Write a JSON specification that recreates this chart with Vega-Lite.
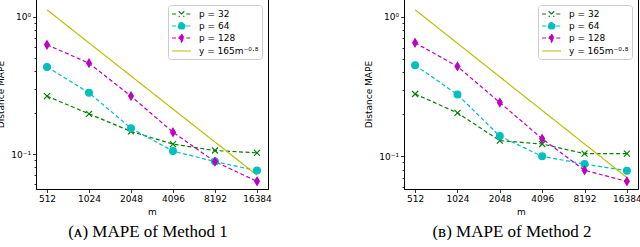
{
  "$schema": "https://vega.github.io/schema/vega-lite/v6.json",
  "padding": {"left": -4, "top": -2, "right": 0, "bottom": 0},
  "background": "white",
  "spacing": 136,
  "bounds": "flush",
  "resolve": {"scale": {"color": "independent", "stroke": "independent", "shape": "independent", "strokeDash": "independent"}, "legend": {"color": "independent"}},
  "config": {
    "view": {"stroke": "black", "strokeWidth": 1},
    "axis": {"grid": false, "domainColor": "black", "tickColor": "black", "labelColor": "black", "labelFont": "DejaVu Sans", "labelFontSize": 9, "titleFont": "DejaVu Sans", "titleFontSize": 9, "titleFontWeight": "normal", "titleColor": "black", "tickSize": 3.5, "labelPadding": 2, "tickWidth": 0.8},
    "title": {"font": "Liberation Serif", "fontSize": 17, "fontWeight": "normal", "color": "black"},
    "legend": {"title": null, "orient": "top-right", "offset": 6, "padding": 3, "strokeColor": "#cccccc", "fillColor": "white", "cornerRadius": 3, "labelFont": "DejaVu Sans", "labelFontSize": 9, "labelColor": "black", "symbolSize": 100, "symbolStrokeWidth": 1.2, "symbolOffset": 4.5, "labelOffset": 11.5, "rowPadding": -2.5, "symbolDash": []}
  },
  "data": {"values": [
    {"method": 1, "series": "p = 32", "m": 512, "mape": 0.264},
    {"method": 1, "series": "p = 32", "m": 1024, "mape": 0.196},
    {"method": 1, "series": "p = 32", "m": 2048, "mape": 0.146},
    {"method": 1, "series": "p = 32", "m": 4096, "mape": 0.118},
    {"method": 1, "series": "p = 32", "m": 8192, "mape": 0.106},
    {"method": 1, "series": "p = 32", "m": 16384, "mape": 0.102},
    {"method": 1, "series": "p = 64", "m": 512, "mape": 0.431},
    {"method": 1, "series": "p = 64", "m": 1024, "mape": 0.279},
    {"method": 1, "series": "p = 64", "m": 2048, "mape": 0.154},
    {"method": 1, "series": "p = 64", "m": 4096, "mape": 0.105},
    {"method": 1, "series": "p = 64", "m": 8192, "mape": 0.088},
    {"method": 1, "series": "p = 64", "m": 16384, "mape": 0.0757},
    {"method": 1, "series": "p = 128", "m": 512, "mape": 0.625},
    {"method": 1, "series": "p = 128", "m": 1024, "mape": 0.459},
    {"method": 1, "series": "p = 128", "m": 2048, "mape": 0.264},
    {"method": 1, "series": "p = 128", "m": 4096, "mape": 0.144},
    {"method": 1, "series": "p = 128", "m": 8192, "mape": 0.088},
    {"method": 1, "series": "p = 128", "m": 16384, "mape": 0.0632},
    {"method": 1, "series": "y = 165m⁻⁰·⁸", "m": 512, "mape": 1.122},
    {"method": 1, "series": "y = 165m⁻⁰·⁸", "m": 1024, "mape": 0.6444},
    {"method": 1, "series": "y = 165m⁻⁰·⁸", "m": 2048, "mape": 0.3701},
    {"method": 1, "series": "y = 165m⁻⁰·⁸", "m": 4096, "mape": 0.2125},
    {"method": 1, "series": "y = 165m⁻⁰·⁸", "m": 8192, "mape": 0.1221},
    {"method": 1, "series": "y = 165m⁻⁰·⁸", "m": 16384, "mape": 0.0701},
    {"method": 2, "series": "p = 32", "m": 512, "mape": 0.279},
    {"method": 2, "series": "p = 32", "m": 1024, "mape": 0.204},
    {"method": 2, "series": "p = 32", "m": 2048, "mape": 0.129},
    {"method": 2, "series": "p = 32", "m": 4096, "mape": 0.122},
    {"method": 2, "series": "p = 32", "m": 8192, "mape": 0.104},
    {"method": 2, "series": "p = 32", "m": 16384, "mape": 0.104},
    {"method": 2, "series": "p = 64", "m": 512, "mape": 0.449},
    {"method": 2, "series": "p = 64", "m": 1024, "mape": 0.276},
    {"method": 2, "series": "p = 64", "m": 2048, "mape": 0.139},
    {"method": 2, "series": "p = 64", "m": 4096, "mape": 0.0995},
    {"method": 2, "series": "p = 64", "m": 8192, "mape": 0.0875},
    {"method": 2, "series": "p = 64", "m": 16384, "mape": 0.0785},
    {"method": 2, "series": "p = 128", "m": 512, "mape": 0.65},
    {"method": 2, "series": "p = 128", "m": 1024, "mape": 0.44},
    {"method": 2, "series": "p = 128", "m": 2048, "mape": 0.242},
    {"method": 2, "series": "p = 128", "m": 4096, "mape": 0.133},
    {"method": 2, "series": "p = 128", "m": 8192, "mape": 0.079},
    {"method": 2, "series": "p = 128", "m": 16384, "mape": 0.0658},
    {"method": 2, "series": "y = 165m⁻⁰·⁸", "m": 512, "mape": 1.122},
    {"method": 2, "series": "y = 165m⁻⁰·⁸", "m": 1024, "mape": 0.6444},
    {"method": 2, "series": "y = 165m⁻⁰·⁸", "m": 2048, "mape": 0.3701},
    {"method": 2, "series": "y = 165m⁻⁰·⁸", "m": 4096, "mape": 0.2125},
    {"method": 2, "series": "y = 165m⁻⁰·⁸", "m": 8192, "mape": 0.1221},
    {"method": 2, "series": "y = 165m⁻⁰·⁸", "m": 16384, "mape": 0.0701}
  ]},
  "hconcat": [
    {
      "width": 232, "height": 190,
      "title": {"text": "(ᴀ) MAPE of Method 1", "orient": "bottom", "anchor": "middle", "frame": "group", "dx": -4, "offset": 7},
      "transform": [{"filter": "datum.method == 1"}],
      "layer": [
        {
          "mark": {"type": "line", "strokeWidth": 1.2, "clip": true},
          "encoding": {
            "x": {"field": "m", "type": "quantitative", "scale": {"type": "log", "base": 2, "domain": [427, 19646], "nice": false}, "axis": {"values": [512, 1024, 2048, 4096, 8192, 16384], "labelExpr": "format(datum.value, 'd')", "title": "m", "titlePadding": 4}},
            "y": {"field": "mape", "type": "quantitative", "scale": {"type": "log", "domain": [0.0556, 1.346], "nice": false}, "axis": {"values": [0.06, 0.07, 0.08, 0.09, 0.1, 0.2, 0.3, 0.4, 0.5, 0.6, 0.7, 0.8, 0.9, 1], "labelExpr": "datum.value == 1 ? '10⁰' : datum.value == 0.1 ? '10⁻¹' : ''", "labelOverlap": false, "tickSize": {"condition": {"test": "datum.value == 1 || datum.value == 0.1", "value": 3.5}, "value": 2}, "title": "Distance MAPE", "titlePadding": 5}},
            "color": {"field": "series", "type": "nominal", "scale": {"domain": ["p = 32", "p = 64", "p = 128", "y = 165m⁻⁰·⁸"], "range": ["#008000", "#00bfbf", "#bf00bf", "#bfbf00"]}, "legend": {"encode": {"symbols": {"update": {"shape": {"signal": "datum.value == 'p = 32' ? 'M-1.9,0H-0.95M0.95,0H1.9M-0.55,-0.55L0.55,0.55M0.55,-0.55L-0.55,0.55' : datum.value == 'p = 64' ? 'M-1.9,0H-0.95M0.95,0H1.9M0.7,0A0.7,0.7,0,1,1,-0.7,0A0.7,0.7,0,1,1,0.7,0Z' : datum.value == 'p = 128' ? 'M-1.9,0H-0.95M0.95,0H1.9M0,-0.8L0.5,0L0,0.8L-0.5,0Z' : 'M-1.9,0H1.9'"}, "fill": {"signal": "datum.value == 'p = 32' ? '#008000' : datum.value == 'p = 64' ? '#00bfbf' : datum.value == 'p = 128' ? '#bf00bf' : '#bfbf00'"}, "stroke": {"signal": "datum.value == 'p = 32' ? '#008000' : datum.value == 'p = 64' ? '#00bfbf' : datum.value == 'p = 128' ? '#bf00bf' : '#bfbf00'"}}}}}},
            "strokeDash": {"field": "series", "type": "nominal", "scale": {"domain": ["p = 32", "p = 64", "p = 128", "y = 165m⁻⁰·⁸"], "range": [[4, 2.5], [4, 2.5], [4, 2.5], [1, 0]]}, "legend": null}
          }
        },
        {
          "transform": [{"filter": "indexof(datum.series, 'p') == 0"}],
          "mark": {"type": "point", "filled": true, "opacity": 1, "strokeWidth": 1.2},
          "encoding": {
            "x": {"field": "m", "type": "quantitative"},
            "y": {"field": "mape", "type": "quantitative"},
            "color": {"field": "series", "type": "nominal", "legend": null},
            "stroke": {"field": "series", "type": "nominal", "scale": {"domain": ["p = 32", "p = 64", "p = 128"], "range": ["#008000", "#00bfbf", "#bf00bf"]}, "legend": null},
            "shape": {"field": "series", "type": "nominal", "scale": {"domain": ["p = 32", "p = 64", "p = 128"], "range": ["M-0.75,-0.75L0.75,0.75M0.75,-0.75L-0.75,0.75", "M0.85,0A0.85,0.85,0,1,1,-0.85,0A0.85,0.85,0,1,1,0.85,0Z", "M0,-1L0.6,0L0,1L-0.6,0Z"]}, "legend": null},
            "size": {"value": 64}
          }
        }
      ]
    },
    {
      "width": 234, "height": 190,
      "title": {"text": "(ʙ) MAPE of Method 2", "orient": "bottom", "anchor": "middle", "frame": "group", "dx": -9, "offset": 7},
      "transform": [{"filter": "datum.method == 2"}],
      "layer": [
        {
          "mark": {"type": "line", "strokeWidth": 1.2, "clip": true},
          "encoding": {
            "x": {"field": "m", "type": "quantitative", "scale": {"type": "log", "base": 2, "domain": [427, 19646], "nice": false}, "axis": {"values": [512, 1024, 2048, 4096, 8192, 16384], "labelExpr": "format(datum.value, 'd')", "title": "m", "titlePadding": 4}},
            "y": {"field": "mape", "type": "quantitative", "scale": {"type": "log", "domain": [0.058, 1.34], "nice": false}, "axis": {"values": [0.06, 0.07, 0.08, 0.09, 0.1, 0.2, 0.3, 0.4, 0.5, 0.6, 0.7, 0.8, 0.9, 1], "labelExpr": "datum.value == 1 ? '10⁰' : datum.value == 0.1 ? '10⁻¹' : ''", "labelOverlap": false, "tickSize": {"condition": {"test": "datum.value == 1 || datum.value == 0.1", "value": 3.5}, "value": 2}, "title": "Distance MAPE", "titlePadding": 5}},
            "color": {"field": "series", "type": "nominal", "scale": {"domain": ["p = 32", "p = 64", "p = 128", "y = 165m⁻⁰·⁸"], "range": ["#008000", "#00bfbf", "#bf00bf", "#bfbf00"]}, "legend": {"encode": {"symbols": {"update": {"shape": {"signal": "datum.value == 'p = 32' ? 'M-1.9,0H-0.95M0.95,0H1.9M-0.55,-0.55L0.55,0.55M0.55,-0.55L-0.55,0.55' : datum.value == 'p = 64' ? 'M-1.9,0H-0.95M0.95,0H1.9M0.7,0A0.7,0.7,0,1,1,-0.7,0A0.7,0.7,0,1,1,0.7,0Z' : datum.value == 'p = 128' ? 'M-1.9,0H-0.95M0.95,0H1.9M0,-0.8L0.5,0L0,0.8L-0.5,0Z' : 'M-1.9,0H1.9'"}, "fill": {"signal": "datum.value == 'p = 32' ? '#008000' : datum.value == 'p = 64' ? '#00bfbf' : datum.value == 'p = 128' ? '#bf00bf' : '#bfbf00'"}, "stroke": {"signal": "datum.value == 'p = 32' ? '#008000' : datum.value == 'p = 64' ? '#00bfbf' : datum.value == 'p = 128' ? '#bf00bf' : '#bfbf00'"}}}}}},
            "strokeDash": {"field": "series", "type": "nominal", "scale": {"domain": ["p = 32", "p = 64", "p = 128", "y = 165m⁻⁰·⁸"], "range": [[4, 2.5], [4, 2.5], [4, 2.5], [1, 0]]}, "legend": null}
          }
        },
        {
          "transform": [{"filter": "indexof(datum.series, 'p') == 0"}],
          "mark": {"type": "point", "filled": true, "opacity": 1, "strokeWidth": 1.2},
          "encoding": {
            "x": {"field": "m", "type": "quantitative"},
            "y": {"field": "mape", "type": "quantitative"},
            "color": {"field": "series", "type": "nominal", "legend": null},
            "stroke": {"field": "series", "type": "nominal", "scale": {"domain": ["p = 32", "p = 64", "p = 128"], "range": ["#008000", "#00bfbf", "#bf00bf"]}, "legend": null},
            "shape": {"field": "series", "type": "nominal", "scale": {"domain": ["p = 32", "p = 64", "p = 128"], "range": ["M-0.75,-0.75L0.75,0.75M0.75,-0.75L-0.75,0.75", "M0.85,0A0.85,0.85,0,1,1,-0.85,0A0.85,0.85,0,1,1,0.85,0Z", "M0,-1L0.6,0L0,1L-0.6,0Z"]}, "legend": null},
            "size": {"value": 64}
          }
        }
      ]
    }
  ]
}
